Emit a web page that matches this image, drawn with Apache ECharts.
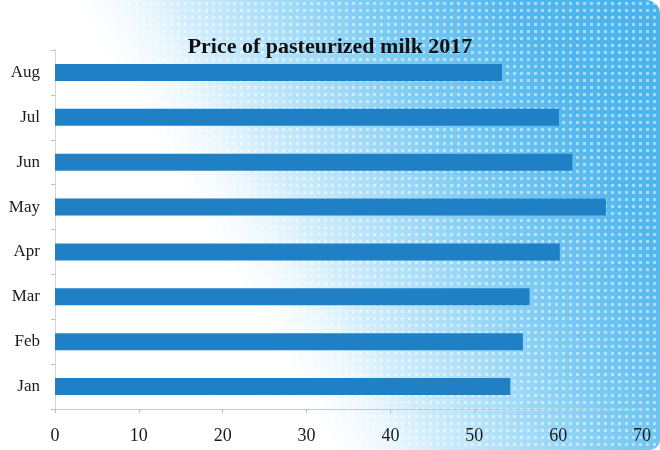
<!DOCTYPE html>
<html>
<head>
<meta charset="utf-8">
<script src="https://cdn.jsdelivr.net/npm/echarts@6/dist/echarts.min.js"></script>
<style>
html,body{margin:0;padding:0;width:660px;height:450px;overflow:hidden;background:#fff;}
#wrap{position:absolute;left:0;top:0;width:660px;height:450px;border-radius:0 14px 10px 0;overflow:hidden;
background:
 radial-gradient(circle, rgba(255,255,255,0.5) 1.4px, transparent 2px) 0 0/7px 7px,
 linear-gradient(60deg, #ffffff 0%, #ffffff 36%, #bfe6fb 52%, #7ccbf4 68%, #52b7ee 84%, #48b2ec 100%);}
#wrap:before{content:"";position:absolute;left:0;top:0;width:100%;height:100%;
background:linear-gradient(60deg, #ffffff 0%, rgba(255,255,255,0.9) 30%, rgba(255,255,255,0) 48%);}
#chart{position:absolute;left:0;top:0;width:660px;height:450px;}
</style>
</head>
<body>
<div id="wrap"></div>
<div id="chart"></div>
<script>
var titleText = 'Price of pasteurized milk 2017';
var categories = ['Jan','Feb','Mar','Apr','May','Jun','Jul','Aug'];
var prices = [54.3, 55.8, 56.6, 60.2, 65.7, 61.7, 60.1, 53.3];
var xTicks = [0, 10, 20, 30, 40, 50, 60, 70];

var chart = echarts.init(document.getElementById('chart'));
var font = '"Liberation Serif", "DejaVu Serif", serif';
chart.setOption({
  backgroundColor: 'transparent',
  animation: false,
  title: {
    text: titleText,
    left: 'center',
    top: 31,
    textStyle: {fontFamily: font, fontWeight: 'bold', fontSize: 22, color: '#111'}
  },
  grid: {left: 55, right: 18, top: 50, bottom: 41, containLabel: false},
  xAxis: {
    type: 'value',
    min: xTicks[0],
    max: xTicks[xTicks.length - 1],
    interval: 10,
    axisLine: {show: true, lineStyle: {color: '#c4c8cc', width: 1}},
    axisTick: {show: true, length: 4, lineStyle: {color: '#b8bcc0'}},
    splitLine: {show: false},
    axisLabel: {fontFamily: font, fontSize: 18, color: '#1a1a1a', margin: 18}
  },
  yAxis: {
    type: 'category',
    data: categories,
    axisLine: {show: true, lineStyle: {color: '#d0d4d8', width: 1}},
    axisTick: {show: true, length: 4, lineStyle: {color: '#b8bcc0'}},
    axisLabel: {fontFamily: font, fontSize: 17, color: '#1a1a1a', margin: 15}
  },
  series: [{
    type: 'bar',
    data: prices,
    barWidth: 17,
    itemStyle: {color: '#1f80c6'}
  }]
});
</script>
</body>
</html>
